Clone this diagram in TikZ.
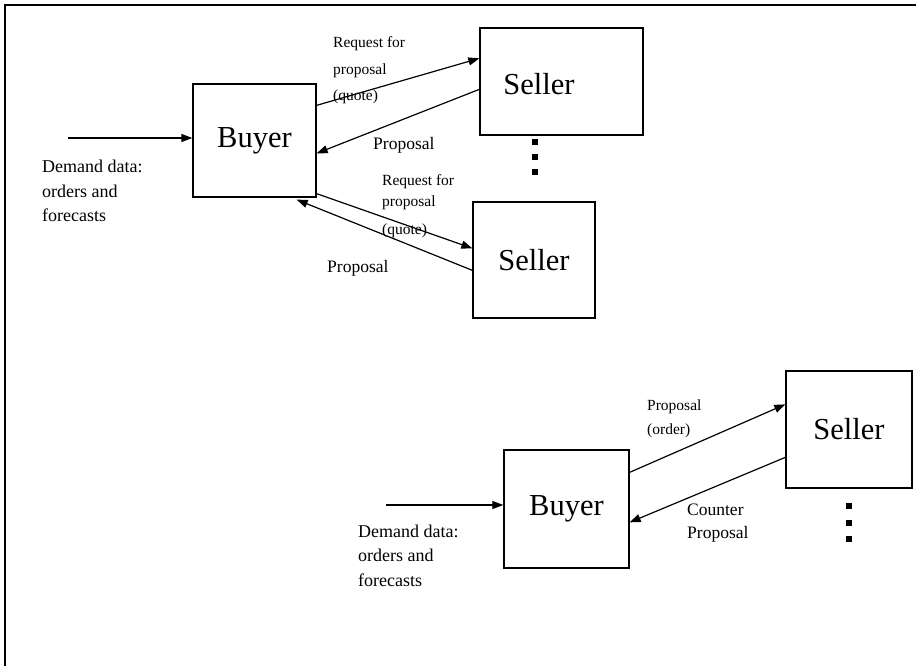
\documentclass[tikz,border=0pt]{standalone}
\usepackage{fontspec}
\setmainfont{Liberation Serif}
\usetikzlibrary{arrows.meta}
\begin{document}
\begin{tikzpicture}[x=1pt,y=-1pt,
  box/.style={draw,line width=1.3pt,rectangle,inner sep=0pt,font=\fontsize{30.5}{34}\selectfont},
  big/.style={inner sep=0pt,font=\fontsize{30.5}{34}\selectfont},
  small/.style={anchor=west,inner sep=0pt,text height=0.7em,text depth=0.2em,font=\fontsize{15.5}{18}\selectfont},
  mid/.style={anchor=west,inner sep=0pt,text height=0.7em,text depth=0.2em,font=\fontsize{17.5}{20}\selectfont},
  dem/.style={anchor=west,inner sep=0pt,text height=0.7em,text depth=0.2em,font=\fontsize{18}{21}\selectfont},
  arr/.style={line width=1.2pt,-{Triangle[length=11pt,width=8pt]}},
  dot/.style={fill,inner sep=0pt,minimum size=6pt,rectangle}]
\useasboundingbox (0,0) rectangle (916,666);
% frame
\draw[line width=1.3pt] (5,666) -- (5,5) -- (916,5);

% ---------- upper diagram ----------
\node[box,minimum width=123pt,minimum height=113pt] (b1) at (254.5,140.5) {Buyer};
\node[box,minimum width=163pt,minimum height=107pt] (s1) at (561.5,81.5) {};
\node[big] (s1t) at (539,84) {Seller};
\node[box,minimum width=122pt,minimum height=116pt] (s2) at (534,260) {Seller};

\node[dot] (d1) at (535,142) {};
\node[dot] (d2) at (535,157) {};
\node[dot] (d3) at (535,172) {};

\coordinate (in1) at (68,138);
\draw[arr] (in1) -- (b1.west |- in1);

\draw[arr] ([yshift=-22pt]b1.north east) -- ([yshift=-31pt]s1.north west);
\draw[arr] ([yshift=-62pt]s1.north west) -- ([yshift=-70pt]b1.north east);
\draw[arr] ([yshift=4pt]b1.south east) -- ([yshift=-47pt]s2.north west);
\draw[arr] ([yshift=-69pt]s2.north west) -- ([xshift=-20pt,yshift=-2pt]b1.south east);

\node[small] (r1a) at (333,45) {Request for};
\node[small] (r1b) at (333,72) {proposal};
\node[small] (r1c) at (333,98) {(quote)};
\node[mid] (p1) at (373,147) {Proposal};
\node[small] (r2a) at (382,183) {Request for};
\node[small] (r2b) at (382,204) {proposal};
\node[small] (r2c) at (382,232) {(quote)};
\node[mid] (p2) at (327,270) {Proposal};

\node[dem] (dd1) at (42,170) {Demand data:};
\node[dem] (dd2) at (42,195) {orders and};
\node[dem] (dd3) at (42,219) {forecasts};

% ---------- lower diagram ----------
\node[box,minimum width=125pt,minimum height=118pt] (b2) at (566.5,509) {Buyer};
\node[box,minimum width=126pt,minimum height=117pt] (s3) at (849,429.5) {Seller};

\node[dot] (d4) at (849,506) {};
\node[dot] (d5) at (849,523) {};
\node[dot] (d6) at (849,539) {};

\coordinate (in2) at (386,505);
\draw[arr] (in2) -- (b2.west |- in2);

\draw[arr] ([yshift=-23pt]b2.north east) -- ([yshift=-34pt]s3.north west);
\draw[arr] ([yshift=-87pt]s3.north west) -- ([yshift=-73pt]b2.north east);

\node[small] (po1) at (647,408) {Proposal};
\node[small] (po2) at (647,432) {(order)};
\node[mid] (cp1) at (687,513) {Counter};
\node[mid] (cp2) at (687,536) {Proposal};

\node[dem] (de1) at (358,535) {Demand data:};
\node[dem] (de2) at (358,559) {orders and};
\node[dem] (de3) at (358,584) {forecasts};
\end{tikzpicture}
\end{document}
